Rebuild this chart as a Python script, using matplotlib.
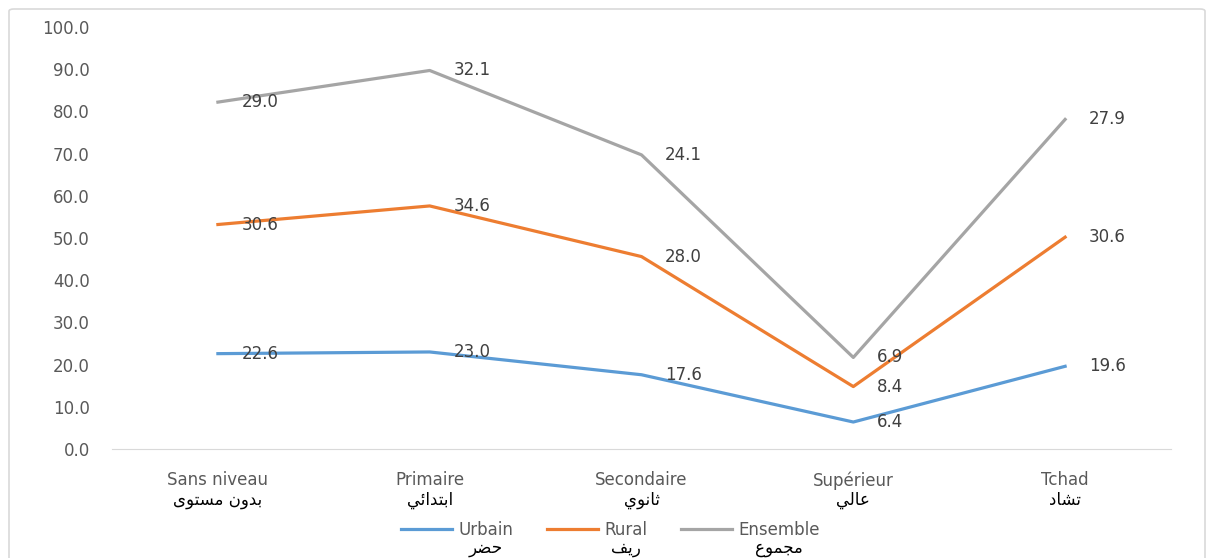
import matplotlib
matplotlib.use("Agg")
import matplotlib.pyplot as plt
from matplotlib.patches import FancyBboxPatch
import numpy as np

# data (values per level, stacked in the chart)
cats_fr = ["Sans niveau", "Primaire", "Secondaire", "Supérieur", "Tchad"]
cats_ar = ["بدون مستوى", "ابتدائي", "ثانوي", "عالي", "تشاد"]
urbain = [22.6, 23.0, 17.6, 6.4, 19.6]
rural = [30.6, 34.6, 28.0, 8.4, 30.6]
ensemble = [29.0, 32.1, 24.1, 6.9, 27.9]
series_fr = ["Urbain", "Rural", "Ensemble"]
series_ar = ["حضر", "ريف", "مجموع"]
colors = ["#5B9BD5", "#ED7D31", "#A5A5A5"]

# minimal arabic shaping (matplotlib has no bidi/shaping)
FORMS = {
    'ا': (0xFE8D, 0xFE8E, None, None),
    'د': (0xFEA9, 0xFEAA, None, None),
    'ر': (0xFEAD, 0xFEAE, None, None),
    'و': (0xFEED, 0xFEEE, None, None),
    'ب': (0xFE8F, 0xFE90, 0xFE91, 0xFE92),
    'ت': (0xFE95, 0xFE96, 0xFE97, 0xFE98),
    'ث': (0xFE99, 0xFE9A, 0xFE9B, 0xFE9C),
    'ج': (0xFE9D, 0xFE9E, 0xFE9F, 0xFEA0),
    'ح': (0xFEA1, 0xFEA2, 0xFEA3, 0xFEA4),
    'س': (0xFEB1, 0xFEB2, 0xFEB3, 0xFEB4),
    'ش': (0xFEB5, 0xFEB6, 0xFEB7, 0xFEB8),
    'ض': (0xFEBD, 0xFEBE, 0xFEBF, 0xFEC0),
    'ع': (0xFEC9, 0xFECA, 0xFECB, 0xFECC),
    'ف': (0xFED1, 0xFED2, 0xFED3, 0xFED4),
    'ل': (0xFEDD, 0xFEDE, 0xFEDF, 0xFEE0),
    'م': (0xFEE1, 0xFEE2, 0xFEE3, 0xFEE4),
    'ن': (0xFEE5, 0xFEE6, 0xFEE7, 0xFEE8),
    'ي': (0xFEF1, 0xFEF2, 0xFEF3, 0xFEF4),
    'ى': (0xFEEF, 0xFEF0, 0xFBE8, 0xFBE9),
    'ئ': (0xFE89, 0xFE8A, 0xFE8B, 0xFE8C),
}


def shape(text):
    out = []
    n = len(text)
    for i, c in enumerate(text):
        if c not in FORMS:
            out.append(c)
            continue
        prev = text[i - 1] if i > 0 else None
        nxt = text[i + 1] if i < n - 1 else None
        jp = prev in FORMS and FORMS[prev][2] is not None
        jn = nxt in FORMS and FORMS[c][2] is not None
        iso, fin, ini, med = FORMS[c]
        if jp and jn:
            code = med
        elif jp:
            code = fin
        elif jn:
            code = ini
        else:
            code = iso
        out.append(chr(code))
    return "".join(out)[::-1]


plt.rcParams['font.family'] = ['DejaVu Sans']
fig = plt.figure(figsize=(12.28, 5.58), dpi=100)
ax = fig.add_axes([0.0912, 0.1953, 0.8624, 0.7563])

x = np.arange(len(cats_fr))
cum = np.zeros(len(x))
for vals, col in zip([urbain, rural, ensemble], colors):
    cum = cum + np.array(vals)
    ax.plot(x, cum, color=col, lw=2.3, solid_joinstyle='round', zorder=3)
    for xi, yi, v in zip(x, cum, vals):
        ax.annotate(f"{v:.1f}", (xi, yi), xytext=(17, 0), textcoords='offset points',
                    ha='left', va='center', fontsize=12, color='#404040', zorder=4)

ax.set_xlim(-0.5, len(x) - 0.5)
ax.set_ylim(0, 100)
ax.set_yticks(np.arange(0, 101, 10))
ax.set_yticklabels([f"{v:.1f}" for v in np.arange(0, 101, 10)])
ax.set_xticks(x)
ax.set_xticklabels(cats_fr)
ax.tick_params(axis='y', length=0, pad=16, labelsize=12, labelcolor='#595959')
ax.tick_params(axis='x', length=0, pad=16, labelsize=12, labelcolor='#595959')
for s in ['left', 'right', 'top']:
    ax.spines[s].set_visible(False)
ax.spines['bottom'].set_color('#d9d9d9')

for xi, lab in zip(x, cats_ar):
    ax.annotate(shape(lab), (xi, 0), xycoords=('data', 'axes fraction'),
                xytext=(0, -37), textcoords='offset points', ha='center', va='center',
                fontsize=12, color='black')

handles = [plt.Line2D([], [], color=c, lw=2.3) for c in colors]
leg = fig.legend(handles, series_fr, loc='center', bbox_to_anchor=(0.497, 0.05),
                 ncol=3, frameon=False, fontsize=12, handlelength=3.1,
                 columnspacing=2.0, handletextpad=0.36)
for t in leg.get_texts():
    t.set_color('#595959')

fig.canvas.draw()
inv = fig.transFigure.inverted()
for t, lab in zip(leg.get_texts(), series_ar):
    bb = t.get_window_extent()
    cx, cy = inv.transform(((bb.x0 + bb.x1) / 2, bb.y0))
    fig.text(cx, cy, shape(lab), ha='center', va='top', fontsize=12, color='black')

border = FancyBboxPatch((9 / 1228, -0.1), (1205 - 9) / 1228, 1.1 - 9 / 558,
                        boxstyle='round,pad=0,rounding_size=0.004', transform=fig.transFigure,
                        facecolor='none', edgecolor='#d9d9d9', lw=1.2)
fig.patches.append(border)

fig.savefig("out.png", dpi=100)
